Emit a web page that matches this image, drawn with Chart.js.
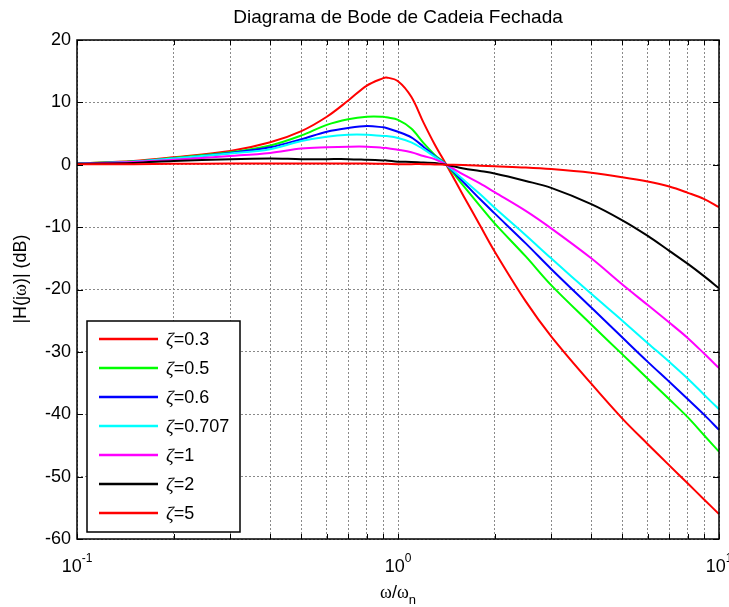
<!DOCTYPE html>
<html>
<head>
<meta charset="utf-8">
<script src="https://cdn.jsdelivr.net/npm/chart.js@4.4.1/dist/chart.umd.min.js"></script>
<style>
    html, body { margin: 0; padding: 0; background: #fff; }
    #wrap { width: 729px; height: 607px; }
</style>
</head>
<body>
<div id="wrap"><canvas id="graficoBode" width="729" height="607"></canvas></div>
<script>
// frequencias normalizadas (w/wn)
const omega = [0.1, 0.15, 0.2, 0.3, 0.4, 0.5, 0.6, 0.7, 0.8, 0.9, 0.92, 1.0, 1.1, 1.2, 1.3, 1.414, 1.6, 1.8, 2, 2.5, 3, 4, 5, 6, 7, 8, 9, 10];

// |H(jw)| em dB para cada zeta
const zeta03 = [0.2, 0.6, 1.2, 2.2, 3.6, 5.4, 7.7, 10.3, 12.7, 13.9, 14.0, 13.4, 10.9, 6.8, 3.3, 0, -5.0, -9.7, -13.9, -21.9, -27.5, -35.1, -40.7, -44.8, -48.2, -51.1, -53.7, -56.0];
const zeta05 = [0.2, 0.55, 1.1, 2.0, 3.1, 4.7, 6.4, 7.3, 7.7, 7.7, 7.6, 7.2, 5.8, 3.5, 1.6, 0, -3.4, -6.6, -9.4, -14.7, -19.3, -25.6, -30.4, -34.3, -37.6, -40.5, -43.4, -46.0];
const zeta06 = [0.2, 0.5, 1.0, 1.9, 2.8, 4.1, 5.3, 5.9, 6.2, 6.0, 5.9, 5.3, 4.4, 2.9, 1.4, 0, -2.8, -5.5, -7.8, -12.6, -16.7, -22.9, -27.7, -31.6, -34.8, -37.6, -40.1, -42.5];
const zeta0707 = [0.2, 0.5, 1.0, 1.8, 2.5, 3.8, 4.5, 4.8, 4.8, 4.6, 4.6, 4.3, 3.6, 2.5, 1.3, 0, -2.4, -4.7, -6.9, -11.3, -15.0, -20.7, -25.0, -28.6, -31.6, -34.3, -36.9, -39.2];
const zeta1 = [0.15, 0.45, 0.8, 1.4, 1.9, 2.6, 2.8, 2.9, 2.9, 2.7, 2.7, 2.4, 2.0, 1.4, 0.9, 0, -1.6, -3.0, -4.4, -7.4, -10.2, -15.0, -19.2, -22.5, -25.3, -27.8, -30.3, -32.6];
const zeta2 = [0.15, 0.3, 0.6, 0.9, 1.0, 0.9, 0.9, 0.9, 0.8, 0.7, 0.7, 0.5, 0.45, 0.35, 0.3, 0, -0.6, -1.0, -1.4, -2.6, -3.7, -6.3, -8.9, -11.4, -13.8, -15.9, -17.9, -19.8];
const zeta5 = [0.1, 0.1, 0.15, 0.2, 0.2, 0.2, 0.2, 0.2, 0.2, 0.15, 0.15, 0.1, 0.1, 0.1, 0.05, 0, -0.05, -0.15, -0.25, -0.45, -0.7, -1.3, -2.0, -2.7, -3.5, -4.5, -5.5, -6.8];

const legendas = ["0.3", "0.5", "0.6", "0.707", "1", "2", "5"];
const cores = ["#ff0000", "#00ff00", "#0000ff", "#00ffff", "#ff00ff", "#000000", "#ff0000"];
const series = [zeta03, zeta05, zeta06, zeta0707, zeta1, zeta2, zeta5];

// ticks do eixo x (log) e y
const xTicks = [0.1, 0.2, 0.3, 0.4, 0.5, 0.6, 0.7, 0.8, 0.9, 1, 2, 3, 4, 5, 6, 7, 8, 9, 10];
const xDecadas = [{ v: 0.1, exp: "-1" }, { v: 1, exp: "0" }, { v: 10, exp: "1" }];
const yTicks = [20, 10, 0, -10, -20, -30, -40, -50, -60];

const FONTE = "Liberation Sans, Arial, sans-serif";
const SIMBOLO = "Liberation Serif, Times New Roman, serif";

// desenha moldura, ticks internos, textos e legenda (estilo MATLAB)
const extrasBode = {
    id: "extrasBode",
    beforeDraw(chart) {
        const ctx = chart.ctx;
        ctx.save();
        ctx.fillStyle = "#fff";
        ctx.fillRect(0, 0, chart.width, chart.height);
        ctx.restore();
    },
    afterDraw(chart) {
        const { ctx, chartArea: a, scales: { x, y } } = chart;
        ctx.save();

        // ticks internos
        ctx.strokeStyle = "#000";
        ctx.lineWidth = 1;
        ctx.beginPath();
        xTicks.forEach(v => {
            const px = Math.round(x.getPixelForValue(v)) + 0.5;
            ctx.moveTo(px, a.bottom); ctx.lineTo(px, a.bottom - 5);
            ctx.moveTo(px, a.top); ctx.lineTo(px, a.top + 5);
        });
        yTicks.forEach(v => {
            const py = Math.round(y.getPixelForValue(v)) + 0.5;
            ctx.moveTo(a.left, py); ctx.lineTo(a.left + 6, py);
            ctx.moveTo(a.right, py); ctx.lineTo(a.right - 6, py);
        });
        ctx.stroke();

        // moldura
        ctx.lineWidth = 1.5;
        ctx.strokeRect(a.left, a.top, a.right - a.left, a.bottom - a.top);

        // rotulos do eixo y
        ctx.fillStyle = "#000";
        ctx.font = "18px " + FONTE;
        ctx.textAlign = "right";
        ctx.textBaseline = "middle";
        yTicks.forEach(v => {
            ctx.fillText(String(v), a.left - 6, y.getPixelForValue(v));
        });

        // rotulos do eixo x: 10^n
        xDecadas.forEach(d => {
            ctx.font = "18px " + FONTE;
            const wBase = ctx.measureText("10").width;
            ctx.font = "12px " + FONTE;
            const wExp = ctx.measureText(d.exp).width;
            const cx = x.getPixelForValue(d.v);
            const x0 = cx - (wBase + wExp) / 2;
            ctx.textAlign = "left";
            ctx.textBaseline = "alphabetic";
            ctx.font = "18px " + FONTE;
            ctx.fillText("10", x0, 572);
            ctx.font = "12px " + FONTE;
            ctx.fillText(d.exp, x0 + wBase, 562);
        });

        // titulo
        ctx.font = "19px " + FONTE;
        ctx.textAlign = "center";
        ctx.textBaseline = "middle";
        ctx.fillText("Diagrama de Bode de Cadeia Fechada", (a.left + a.right) / 2, 18);

        // titulo eixo x: w/wn
        const partes = [
            { t: "\u03c9", f: "18px " + SIMBOLO, dy: 0 },
            { t: "/", f: "18px " + FONTE, dy: 0 },
            { t: "\u03c9", f: "18px " + SIMBOLO, dy: 0 },
            { t: "n", f: "13px " + FONTE, dy: 6 }
        ];
        let total = 0;
        partes.forEach(p => { ctx.font = p.f; p.w = ctx.measureText(p.t).width; total += p.w; });
        let px = (a.left + a.right) / 2 - total / 2;
        ctx.textAlign = "left";
        ctx.textBaseline = "alphabetic";
        partes.forEach(p => { ctx.font = p.f; ctx.fillText(p.t, px, 598 + p.dy); px += p.w; });

        // titulo eixo y
        ctx.translate(21, 279);
        ctx.rotate(-Math.PI / 2);
        const partesY = [
            { t: "|H(j", f: "18px " + FONTE },
            { t: "\u03c9", f: "18px " + SIMBOLO },
            { t: ")| (dB)", f: "18px " + FONTE }
        ];
        total = 0;
        partesY.forEach(p => { ctx.font = p.f; p.w = ctx.measureText(p.t).width; total += p.w; });
        px = -total / 2;
        ctx.textBaseline = "middle";
        partesY.forEach(p => { ctx.font = p.f; ctx.fillText(p.t, px, 0); px += p.w; });
        ctx.setTransform(1, 0, 0, 1, 0, 0);

        // legenda
        const lx = 87, ly = 321, lw = 153, lh = 211;
        ctx.fillStyle = "#fff";
        ctx.fillRect(lx, ly, lw, lh);
        ctx.strokeStyle = "#000";
        ctx.lineWidth = 1.5;
        ctx.strokeRect(lx, ly, lw, lh);
        chart.data.datasets.forEach((ds, i) => {
            const cy = 339 + i * 29;
            ctx.strokeStyle = ds.borderColor;
            ctx.lineWidth = 2.5;
            ctx.beginPath();
            ctx.moveTo(99, cy); ctx.lineTo(158, cy);
            ctx.stroke();
            ctx.fillStyle = "#000";
            ctx.textBaseline = "middle";
            ctx.font = "italic 19px " + SIMBOLO;
            ctx.fillText("\u03b6", 166, cy + 2);
            const wz = ctx.measureText("\u03b6").width;
            ctx.font = "18px " + FONTE;
            ctx.fillText("=" + legendas[i], 166 + wz, cy + 1);
        });

        ctx.restore();
    }
};

const datasets = series.map((valores, i) => ({
    label: "\u03b6=" + legendas[i],
    data: omega.map((w, k) => ({ x: w, y: valores[k] })),
    borderColor: cores[i],
    borderWidth: 2,
    pointRadius: 0,
    fill: false,
    tension: 0.35,
    order: series.length - i
}));

const ctx = document.getElementById("graficoBode").getContext("2d");
const graficoBode = new Chart(ctx, {
    type: "line",
    data: { datasets: datasets },
    plugins: [extrasBode],
    options: {
        responsive: false,
        devicePixelRatio: 1,
        animation: false,
        layout: { padding: { left: 77, right: 10, top: 40, bottom: 68 } },
        plugins: {
            legend: { display: false },
            tooltip: { enabled: false },
            title: { display: false }
        },
        scales: {
            x: {
                type: "logarithmic",
                min: 0.1,
                max: 10,
                afterBuildTicks: (axis) => { axis.ticks = xTicks.map(v => ({ value: v })); },
                ticks: { display: false },
                grid: { color: "#8a8a8a", lineWidth: 1, drawTicks: false },
                border: { display: false, dash: [2, 2] }
            },
            y: {
                type: "linear",
                min: -60,
                max: 20,
                afterBuildTicks: (axis) => { axis.ticks = yTicks.map(v => ({ value: v })); },
                ticks: { display: false },
                grid: { color: "#8a8a8a", lineWidth: 1, drawTicks: false },
                border: { display: false, dash: [2, 2] }
            }
        }
    }
});
</script>
</body>
</html>
